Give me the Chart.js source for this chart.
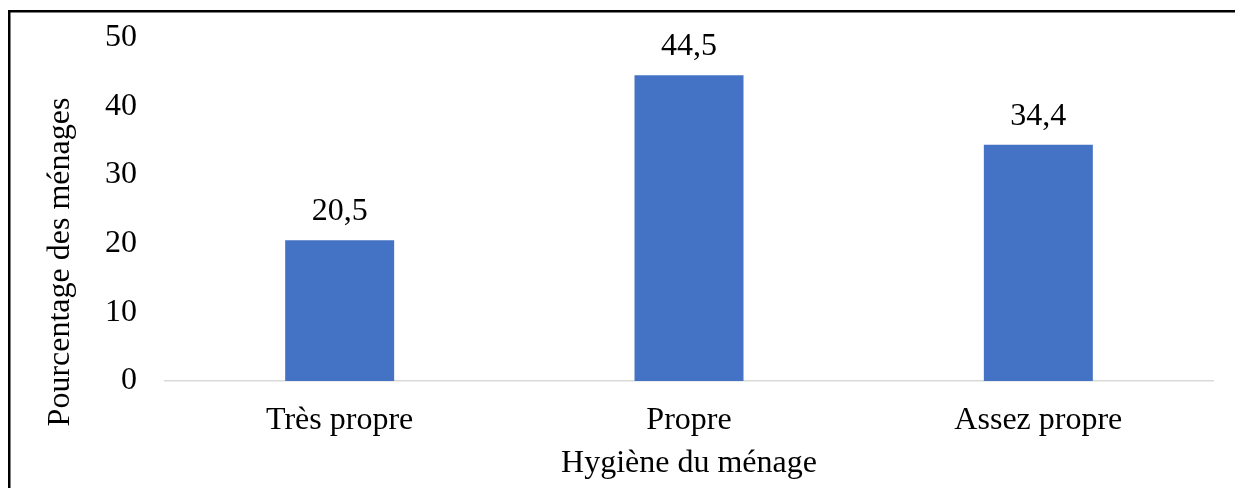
<!DOCTYPE html>
<html>
<head>
<meta charset="utf-8">
<script src="https://cdn.jsdelivr.net/npm/chart.js@4/dist/chart.umd.min.js"></script>
<style>
html,body{margin:0;padding:0;background:#fff;}
#wrap{width:1235px;height:488px;position:relative;}
</style>
</head>
<body>
<div id="wrap"><canvas id="c" width="1235" height="488"></canvas></div>
<script>
const categories = ["Très propre", "Propre", "Assez propre"];
const values = [20.5, 44.5, 34.4];
const yTicks = [0, 10, 20, 30, 40, 50];
const xTitle = "Hygiène du ménage";
const yTitle = "Pourcentage des ménages";

const FONT = "'Liberation Serif', 'Times New Roman', serif";
const FS = 32;

const decorPlugin = {
  id: 'decor',
  beforeDraw(chart) {
    const ctx = chart.ctx;
    ctx.save();
    ctx.fillStyle = '#fff';
    ctx.fillRect(0, 0, chart.width, chart.height);
    ctx.restore();
  },
  afterDraw(chart) {
    const ctx = chart.ctx;
    ctx.save();
    // frame
    ctx.strokeStyle = '#000';
    ctx.lineWidth = 2.5;
    ctx.beginPath();
    ctx.moveTo(9.25, chart.height);
    ctx.lineTo(9.25, 11.25);
    ctx.lineTo(chart.width, 11.25);
    ctx.stroke();
    // y title
    ctx.fillStyle = '#000';
    ctx.font = FS + 'px ' + FONT;
    ctx.textAlign = 'center';
    ctx.textBaseline = 'middle';
    ctx.translate(60.5, 262);
    ctx.rotate(-Math.PI / 2);
    ctx.fillText(yTitle, 0, 0);
    ctx.restore();
    // data labels
    ctx.save();
    ctx.fillStyle = '#000';
    ctx.font = FS + 'px ' + FONT;
    ctx.textAlign = 'center';
    ctx.textBaseline = 'alphabetic';
    const meta = chart.getDatasetMeta(0);
    meta.data.forEach((bar, i) => {
      ctx.fillText(String(values[i]).replace('.', ','), bar.x, bar.y - 20);
    });
    ctx.restore();
  }
};

new Chart(document.getElementById('c'), {
  type: 'bar',
  data: {
    labels: categories,
    datasets: [{
      data: values,
      backgroundColor: '#4472C4',
      borderWidth: 0,
      barPercentage: 0.312,
      categoryPercentage: 1.0
    }]
  },
  plugins: [decorPlugin],
  options: {
    responsive: false,
    animation: false,
    devicePixelRatio: 1,
    layout: { padding: { top: 37.5, right: 22, left: 0, bottom: 0 } },
    plugins: { legend: { display: false }, tooltip: { enabled: false } },
    scales: {
      x: {
        grid: { display: false, drawTicks: false },
        border: { display: true, color: '#d9d9d9', width: 1.5 },
        ticks: { color: '#000', font: { family: FONT, size: FS }, padding: 20, maxRotation: 0 },
        title: { display: true, text: xTitle, color: '#000', font: { family: FONT, size: FS }, padding: { top: 0, bottom: 5 } },
        afterFit(scale) { scale.height = 107; scale.paddingLeft = 0; scale.paddingRight = 0; }
      },
      y: {
        min: 0, max: 50,
        afterBuildTicks(scale) { scale.ticks = yTicks.map(v => ({ value: v })); },
        grid: { display: false, drawTicks: false },
        border: { display: false },
        ticks: { color: '#000', font: { family: FONT, size: FS }, padding: 28 },
        afterFit(scale) { scale.width = 165; scale.paddingTop = 0; scale.paddingBottom = 0; }
      }
    }
  }
});
</script>
</body>
</html>
